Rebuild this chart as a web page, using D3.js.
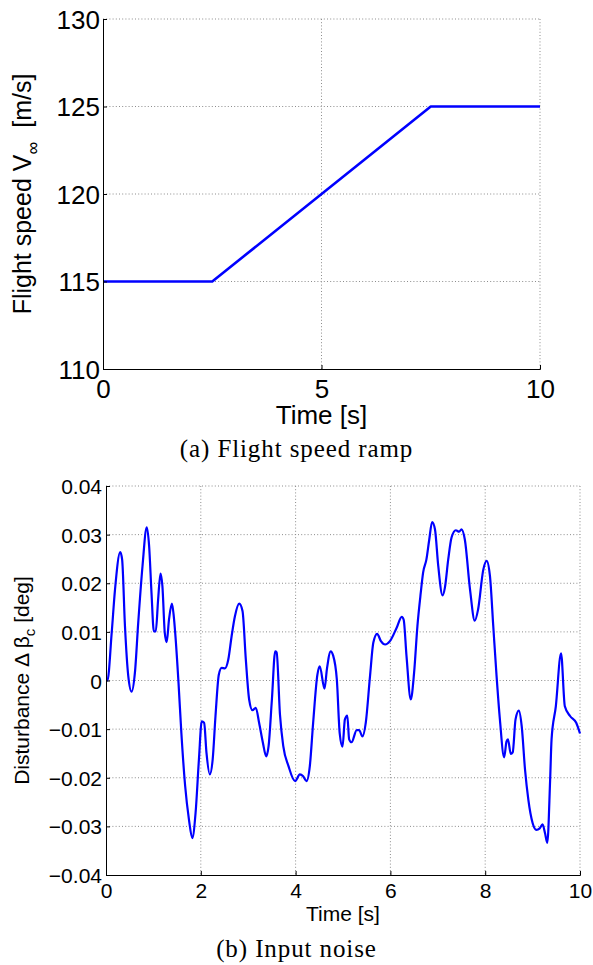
<!DOCTYPE html>
<html>
<head>
<meta charset="utf-8">
<script src="https://cdn.jsdelivr.net/npm/d3@7"></script>
<style>
  body { margin: 0; background: #fff; }
  svg { display: block; }
  .grid line { stroke: #8c8c8c; stroke-width: 1; stroke-dasharray: 1,2.2; }
</style>
</head>
<body>
<div id="chart"></div>
<script>
// (a) flight speed ramp
var speedTime = [0, 2.5, 7.5, 10];
var speedValue = [115, 115, 125, 125];
var speedXTicks = [0, 5, 10];
var speedYTicks = [110, 115, 120, 125, 130];

// (b) input noise
var noiseTime = [0, 0.03, 0.12, 0.19, 0.30, 0.34, 0.40, 0.47, 0.54, 0.61, 0.68, 0.77, 0.86, 0.91, 0.96,
  1.01, 1.05, 1.10, 1.15, 1.19, 1.24, 1.28, 1.33, 1.39, 1.43, 1.46, 1.53, 1.59, 1.67, 1.75, 1.82, 1.89, 1.96,
  2.02, 2.07, 2.12, 2.19, 2.25, 2.31, 2.38, 2.44, 2.51, 2.58, 2.65, 2.72, 2.81, 2.88, 2.95,
  3.02, 3.09, 3.16, 3.23, 3.31, 3.38, 3.43, 3.50, 3.57, 3.60, 3.67, 3.74, 3.85, 3.99,
  4.09, 4.16, 4.23, 4.30, 4.37, 4.46, 4.51, 4.61, 4.66, 4.74, 4.79, 4.87, 4.93, 4.99,
  5.04, 5.09, 5.13, 5.18, 5.29, 5.34, 5.41, 5.48, 5.57, 5.64, 5.72, 5.80, 5.89, 5.99,
  6.13, 6.24, 6.28, 6.34, 6.43, 6.50, 6.57, 6.64, 6.69, 6.76, 6.82, 6.88, 6.94,
  7.01, 7.10, 7.15, 7.22, 7.29, 7.38, 7.45, 7.50, 7.57, 7.68, 7.78, 7.85, 7.96,
  8.03, 8.10, 8.17, 8.24, 8.31, 8.40, 8.45, 8.48, 8.54, 8.58, 8.64, 8.71, 8.77, 8.84, 8.91,
  9.00, 9.08, 9.15, 9.21, 9.26, 9.31, 9.37, 9.40, 9.49, 9.60, 9.68, 9.79, 9.92, 10.0];
var noiseValue = [0, 0, 0.0098, 0.0187, 0.0264, 0.0249, 0.0112, 0.0009, -0.0023, 0.0016, 0.0119, 0.0235, 0.0315, 0.0276, 0.0180,
  0.0101, 0.0101, 0.0167, 0.0220, 0.0194, 0.0098, 0.0079, 0.0126, 0.0158, 0.0132, 0.0098, -0.0005, -0.0108, -0.0217, -0.0286, -0.0324, -0.0272, -0.0163,
  -0.0084, -0.0087, -0.0149, -0.0193, -0.0163, -0.0073, 0.0012, 0.0026, 0.0025, 0.0043, 0.0091, 0.0132, 0.0158, 0.0143, 0.0043,
  -0.0039, -0.0061, -0.0056, -0.0087, -0.0128, -0.0156, -0.0135, -0.0039, 0.0060, 0.0058, -0.0070, -0.0135, -0.0176, -0.0207,
  -0.0193, -0.0197, -0.0207, -0.0176, -0.0087, 0.0012, 0.0029, -0.0017, 0.0023, 0.0060, 0.0052, 0.0002, -0.0108, -0.0136,
  -0.0080, -0.0072, -0.0121, -0.0127, -0.0102, -0.0102, -0.0115, -0.0087, 0.0009, 0.0078, 0.0096, 0.0081, 0.0074, 0.0081,
  0.0108, 0.0131, 0.0125, 0.0050, -0.0039, 0.0016, 0.0112, 0.0180, 0.0222, 0.0249, 0.0290, 0.0326, 0.0311,
  0.0235, 0.0175, 0.0191, 0.0249, 0.0294, 0.0309, 0.0306, 0.0311, 0.0290, 0.0187, 0.0123, 0.0146, 0.0228,
  0.0246, 0.0215, 0.0112, 0.0009, -0.0080, -0.0158, -0.0125, -0.0121, -0.0151, -0.0148, -0.0080, -0.0062, -0.0094, -0.0183, -0.0245,
  -0.0293, -0.0307, -0.0304, -0.0296, -0.0313, -0.0334, -0.0204, -0.0121, -0.0053, 0.0056, -0.0053, -0.0073, -0.0087, -0.0109];
var noiseXTicks = [0, 2, 4, 6, 8, 10];
var noiseYTicks = [-0.04, -0.03, -0.02, -0.01, 0, 0.01, 0.02, 0.03, 0.04];

var width = 593, height = 965;

var svg = d3.select("#chart").append("svg")
    .attr("width", width)
    .attr("height", height);

function drawPanel(p) {
    var x = d3.scaleLinear().domain([0, 10]).range([p.left, p.right]);
    var y = d3.scaleLinear().domain(p.yDomain).range([p.bottom, p.top]);
    var g = svg.append("g").style("font-family", "'Liberation Sans', Arial, sans-serif");

    // dotted grid, skipping lines that sit on the axes
    var grid = g.append("g").attr("class", "grid");
    grid.selectAll(".gx")
        .data(p.xTicks.filter(function(d) { return x(d) !== p.left; }))
        .enter().append("line")
        .attr("x1", function(d) { return x(d); })
        .attr("x2", function(d) { return x(d); })
        .attr("y1", p.top).attr("y2", p.bottom);
    grid.selectAll(".gy")
        .data(p.yTicks.filter(function(d) { return y(d) !== p.bottom; }))
        .enter().append("line")
        .attr("x1", p.left).attr("x2", p.right)
        .attr("y1", function(d) { return y(d); })
        .attr("y2", function(d) { return y(d); });

    var line = d3.line()
        .x(function(d) { return x(d[0]); })
        .y(function(d) { return y(d[1]); })
        .curve(p.curve || d3.curveLinear);

    g.append("path")
        .datum(d3.zip(p.xs, p.ys))
        .attr("fill", "none")
        .attr("stroke", "#0000ff")
        .attr("stroke-width", p.lineWidth)
        .attr("stroke-linejoin", "round")
        .attr("d", line);

    // axes with inward ticks
    var xAxis = g.append("g")
        .attr("transform", "translate(0," + p.bottom + ")")
        .call(d3.axisBottom(x).tickValues(p.xTicks).tickSize(-p.tick).tickFormat(d3.format("d")));
    var yAxis = g.append("g")
        .attr("transform", "translate(" + p.left + ",0)")
        .call(d3.axisLeft(y).tickValues(p.yTicks).tickSize(-p.tick).tickFormat(p.yFormat));

    [xAxis, yAxis].forEach(function(a) {
        a.select(".domain").attr("stroke", "#000").attr("stroke-width", 1);
        a.selectAll(".tick line").attr("stroke", "#000");
        a.selectAll("text")
            .attr("fill", "#000")
            .style("font-family", "'Liberation Sans', Arial, sans-serif")
            .style("font-size", p.fontSize + "px");
    });
    xAxis.selectAll("text").attr("dy", null).attr("y", p.xTickDy);
    yAxis.selectAll("text").attr("x", -p.yTickGap).attr("dy", "0.36em");

    g.append("text")
        .attr("x", (p.left + p.right) / 2)
        .attr("y", p.xLabelY)
        .attr("text-anchor", "middle")
        .style("font-size", p.fontSize + "px")
        .text("Time [s]");

    var yl = g.append("text")
        .attr("transform", "translate(" + p.yLabelX + "," + (p.top + p.bottom) / 2 + ") rotate(-90)")
        .attr("text-anchor", "middle")
        .style("font-size", p.labelSize + "px");
    p.yLabel.forEach(function(part) {
        var t = yl.append("tspan").text(part.text);
        if (part.sub) t.attr("baseline-shift", p.subShift).style("font-size", p.subSize + "px");
    });

    svg.append("text")
        .attr("x", width / 2)
        .attr("y", p.captionY)
        .attr("text-anchor", "middle")
        .style("font-family", "'Liberation Serif', 'Times New Roman', serif")
        .style("font-size", "25px")
        .style("letter-spacing", "0.9px")
        .text(p.caption);
}

drawPanel({
    left: 103, right: 540, top: 19, bottom: 369,
    yDomain: [110, 130],
    xs: speedTime, ys: speedValue,
    xTicks: speedXTicks, yTicks: speedYTicks,
    yFormat: d3.format("d"),
    fontSize: 26, labelSize: 25, subSize: 18, subShift: "-8",
    tick: 4, lineWidth: 2.6,
    xTickDy: 29, yTickGap: 3,
    xLabelY: 424, yLabelX: 31,
    yLabel: [{ text: "Flight speed V" }, { text: "\u221e", sub: true }, { text: "\u00a0\u00a0[m/s]" }],
    caption: "(a) Flight speed ramp", captionY: 457
});

drawPanel({
    left: 106, right: 580, top: 486, bottom: 875,
    yDomain: [-0.04, 0.04],
    xs: noiseTime, ys: noiseValue,
    xTicks: noiseXTicks, yTicks: noiseYTicks,
    yFormat: function(d) { return d === 0 ? "0" : d3.format(".2f")(d); },
    curve: d3.curveMonotoneX,
    fontSize: 21, labelSize: 21, subSize: 15, subShift: "-6",
    tick: 4, lineWidth: 2.2,
    xTickDy: 23, yTickGap: 4,
    xLabelY: 921, yLabelX: 29,
    yLabel: [{ text: "Disturbance \u0394 \u03b2" }, { text: "c", sub: true }, { text: " [deg]" }],
    caption: "(b) Input noise", captionY: 957
});
</script>
</body>
</html>
